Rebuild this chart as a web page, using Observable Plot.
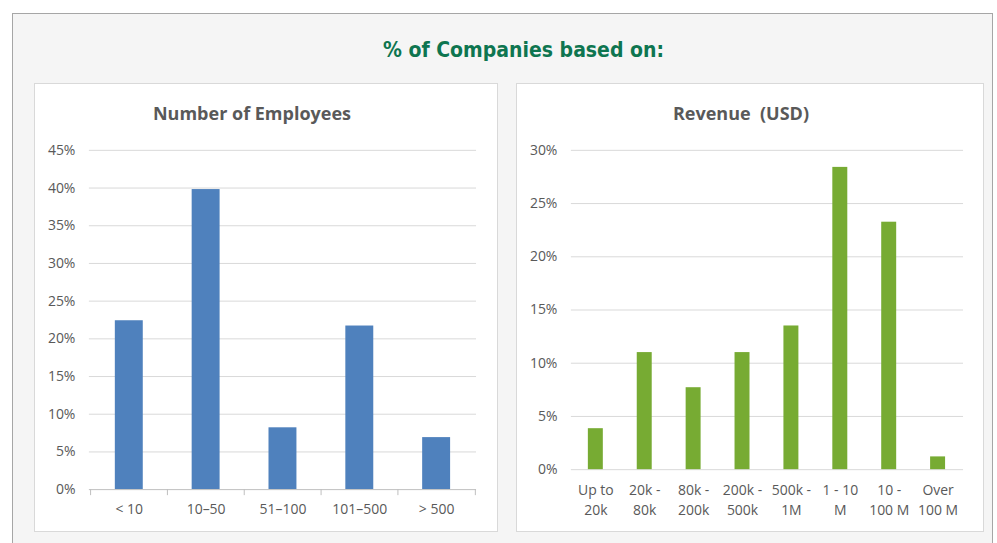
<!DOCTYPE html>
<html><head><meta charset="utf-8">
<script src="https://cdn.jsdelivr.net/npm/d3@7"></script>
<script src="https://cdn.jsdelivr.net/npm/@observablehq/plot@0.6"></script>
<style>
body{margin:0;background:#fff;font-family:Lato,"Open Sans",sans-serif;}
#frame{position:absolute;left:12px;top:13px;width:979px;height:560px;background:#f5f5f5;border:1px solid #a6a6a6;}
#title{position:absolute;left:54px;top:38px;width:939px;text-align:center;font-family:"DejaVu Sans Condensed","DejaVu Sans",sans-serif;font-stretch:condensed;font-weight:bold;font-size:21px;color:#0e7550;}
.panel{position:absolute;top:83px;height:447px;background:#fff;border:1px solid #d9d9d9;}
.ptitle{position:absolute;top:17px;text-align:center;font-weight:bold;font-size:18px;color:#595959;font-family:"Open Sans",sans-serif;}
.panel svg{position:absolute;left:0;top:0;}
</style></head><body>
<div id="frame"></div>
<div id="title">% of Companies based on:</div>
<div class="panel" id="p1" style="left:34px;width:462px;"><div class="ptitle" style="left:-14px;width:462px;">Number of Employees</div></div>
<div class="panel" id="p2" style="left:516px;width:466px;"><div class="ptitle" style="left:-9px;width:466px;">Revenue&nbsp; (USD)</div></div>
<script>
const empCats = ["< 10", "10–50", "51–100", "101–500", "> 500"];
const empVals = [22.4, 39.8, 8.2, 21.7, 6.9];
const empTicks = [0, 5, 10, 15, 20, 25, 30, 35, 40, 45];

const revCats = ["Up to\n20k", "20k -\n80k", "80k -\n200k", "200k -\n500k", "500k -\n1M", "1 - 10\nM", "10 -\n100 M", "Over\n100 M"];
const revVals = [3.85, 11.0, 7.7, 11.0, 13.5, 28.4, 23.25, 1.2];
const revTicks = [0, 5, 10, 15, 20, 25, 30];

const grid = "#d9d9d9", txt = "#595959";
const font = "Open Sans";

// Left chart
{
  const W = 463, H = 448, ml = 54, mr = 21, mt = 66, mb = 42;
  const step = (W - ml - mr) / empCats.length;
  const data = empCats.map((c, i) => ({c, v: empVals[i]}));
  const chart = Plot.plot({
    width: W, height: H, marginLeft: ml, marginRight: mr, marginTop: mt, marginBottom: mb,
    style: {fontFamily: font, fontSize: "14px", color: txt, background: "transparent"},
    x: {domain: empCats, paddingInner: 0.64, paddingOuter: 0.32, label: null},
    y: {domain: [0, 45], label: null},
    marks: [
      Plot.ruleY(empTicks.filter(d => d > 0), {stroke: grid, strokeWidth: 1}),
      Plot.barY(data, {x: "c", y: "v", fill: "#4f81bd"}),
      Plot.ruleY([0], {stroke: "#bfbfbf"}),
      Plot.ruleX(empCats, {x: d => d, dx: -step / 2, y1: 0, y2: -0.8, stroke: "#bfbfbf"}),
      Plot.ruleX(empCats.slice(-1), {x: d => d, dx: step / 2, y1: 0, y2: -0.8, stroke: "#bfbfbf"}),
      Plot.axisY({ticks: empTicks, tickSize: 0, tickPadding: 14, tickFormat: d => d + "%", fill: txt, label: null, fontSize: 14}),
      Plot.axisX({tickSize: 0, tickPadding: 14, fill: txt, label: null, fontSize: 14})
    ]
  });
  document.getElementById("p1").appendChild(chart);
}

// Right chart
{
  const W = 467, H = 448, ml = 54, mr = 20, mt = 66, mb = 62;
  const data = revCats.map((c, i) => ({c, v: revVals[i]}));
  const chart = Plot.plot({
    width: W, height: H, marginLeft: ml, marginRight: mr, marginTop: mt, marginBottom: mb,
    style: {fontFamily: font, fontSize: "14px", color: txt, background: "transparent"},
    x: {domain: revCats, paddingInner: 0.69, paddingOuter: 0.345, label: null},
    y: {domain: [0, 30], label: null},
    marks: [
      Plot.ruleY(revTicks, {stroke: grid, strokeWidth: 1}),
      Plot.barY(data, {x: "c", y: "v", fill: "#77ab33"}),
      Plot.axisY({ticks: revTicks, tickSize: 0, tickPadding: 14, tickFormat: d => d + "%", fill: txt, label: null, fontSize: 14}),
      Plot.axisX({tickSize: 0, tickPadding: 12, fill: txt, label: null, lineHeight: 1.38, fontSize: 14})
    ]
  });
  document.getElementById("p2").appendChild(chart);
}
</script>
</body></html>
